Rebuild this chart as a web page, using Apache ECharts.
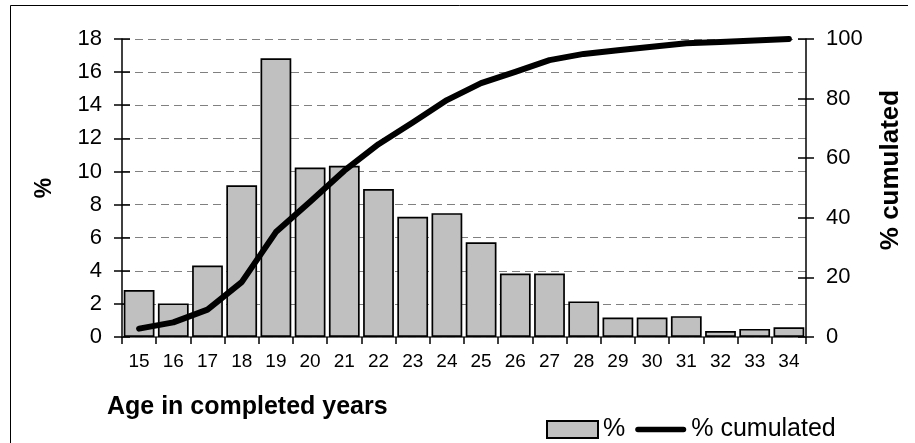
<!DOCTYPE html>
<html>
<head>
<meta charset="utf-8">
<script src="https://cdn.jsdelivr.net/npm/echarts@6/dist/echarts.min.js"></script>
<style>html,body{margin:0;padding:0;background:#fff;}#c{width:915px;height:443px;}</style>
</head>
<body>
<div id="c"></div>
<script>
var ages = ['15','16','17','18','19','20','21','22','23','24','25','26','27','28','29','30','31','32','33','34'];
var pct = [2.84, 2.03, 4.32, 9.16, 16.83, 10.24, 10.34, 8.94, 7.26, 7.48, 5.72, 3.83, 3.83, 2.15, 1.18, 1.18, 1.26, 0.36, 0.49, 0.59];
var cumulated = [2.8, 4.9, 9.2, 18.4, 35.2, 45.4, 55.8, 64.7, 72.0, 79.5, 85.2, 89.0, 92.9, 95.0, 96.2, 97.4, 98.6, 99.0, 99.5, 100.0];

var FONT = '"Liberation Sans", Arial, sans-serif';
var chart = echarts.init(document.getElementById('c'), null, {renderer: 'canvas'});
var tickStyle = {color: '#000', width: 1.5};
chart.setOption({
  animation: false,
  textStyle: {fontFamily: FONT, color: '#000'},
  grid: {left: 122, right: 109, top: 39, bottom: 106},
  legend: {
    left: 546, top: 417, padding: 0,
    itemWidth: 51, itemHeight: 17, itemGap: 10,
    textStyle: {fontFamily: FONT, fontSize: 25, color: '#000'},
    data: [
      {name: '%', icon: 'rect'},
      {name: '% cumulated', icon: 'path://M3,0 H52 A3,3 0 0 1 52,6 H3 A3,3 0 0 1 3,0 Z', itemStyle: {color: '#000'}}
    ]
  },
  xAxis: [{
    type: 'category', data: ages, position: 'bottom',
    axisLine: {lineStyle: {color: '#000', width: 1.5}},
    axisTick: {show: true, length: 7, lineStyle: tickStyle},
    axisLabel: {fontSize: 19, color: '#000', margin: 15, fontFamily: FONT}
  }, {
    type: 'category', data: ages, position: 'top',
    axisLine: {lineStyle: {color: '#808080', width: 1.5}},
    axisTick: {show: false}, axisLabel: {show: false}
  }],
  yAxis: [{
    type: 'value', min: 0, max: 18, interval: 2, position: 'left',
    axisLine: {show: true, lineStyle: {color: '#000', width: 1.5}},
    axisTick: {show: true, length: 8, lineStyle: tickStyle},
    axisLabel: {fontSize: 22, color: '#000', margin: 20, fontFamily: FONT},
    splitLine: {show: true, lineStyle: {color: '#808080', type: [8, 5], width: 1}}
  }, {
    type: 'value', min: 0, max: 100, interval: 20, position: 'right',
    axisLine: {show: true, lineStyle: {color: '#000', width: 1.5}},
    axisTick: {show: true, length: 8, lineStyle: tickStyle},
    axisLabel: {fontSize: 22, color: '#000', margin: 20, fontFamily: FONT},
    splitLine: {show: false}
  }, {
    type: 'value', min: 0, max: 18, interval: 2, position: 'left',
    axisLine: {show: false},
    axisTick: {show: true, inside: true, length: 8, lineStyle: tickStyle},
    axisLabel: {show: false}, splitLine: {show: false}
  }, {
    type: 'value', min: 0, max: 100, interval: 20, position: 'right',
    axisLine: {show: false},
    axisTick: {show: true, inside: true, length: 8, lineStyle: tickStyle},
    axisLabel: {show: false}, splitLine: {show: false}
  }],
  graphic: [
    {type: 'polyline', shape: {points: [[10.5, 443], [10.5, 5.5], [908, 5.5]]}, style: {stroke: '#000', lineWidth: 1, fill: null}},
    {type: 'text', x: 45, y: 188, rotation: Math.PI / 2,
      style: {text: '%', font: 'bold 23px ' + FONT, fill: '#000', textAlign: 'center', textVerticalAlign: 'middle'}},
    {type: 'text', x: 891, y: 170, rotation: Math.PI / 2,
      style: {text: '% cumulated', font: 'bold 26px ' + FONT, fill: '#000', textAlign: 'center', textVerticalAlign: 'middle'}},
    {type: 'text', x: 107, y: 395,
      style: {text: 'Age in completed years', font: 'bold 25px ' + FONT, fill: '#000', textAlign: 'left', textVerticalAlign: 'top'}}
  ],
  series: [{
    name: '%', type: 'bar', data: pct, xAxisIndex: 0, yAxisIndex: 0,
    barCategoryGap: '10%',
    itemStyle: {color: '#c0c0c0', borderColor: '#000', borderWidth: 1.7}
  }, {
    name: '% cumulated', type: 'line', data: cumulated, xAxisIndex: 0, yAxisIndex: 1,
    symbol: 'none', smooth: false,
    lineStyle: {color: '#000', width: 6, cap: 'round', join: 'round'},
    itemStyle: {color: '#000'}
  }]
});
</script>
</body>
</html>
